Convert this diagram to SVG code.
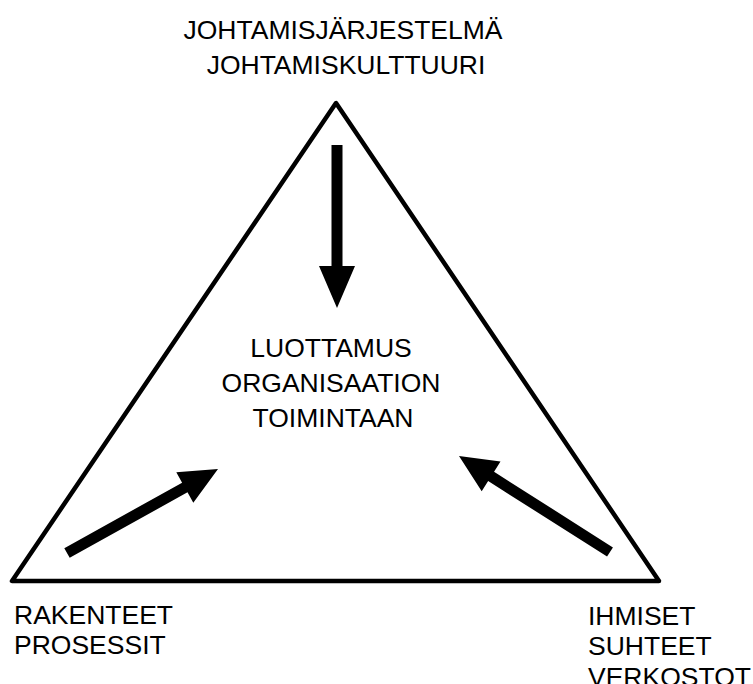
<svg xmlns="http://www.w3.org/2000/svg" width="753" height="684" viewBox="0 0 753 684">
<style>
text{font-family:"Liberation Sans",Arial,sans-serif;font-size:26.5px;fill:#000}
.arr{fill:#000;stroke:none}
</style>
<rect width="753" height="684" fill="#fff"/>
<g id="triangle">
<polygon points="336,103 12,581 659,581" fill="none" stroke="#000" stroke-width="4.5" stroke-linejoin="round"/>
</g>
<g id="connectors">
<polygon class="arr" points="331.5,145 342.5,145 342.5,266 355,266 337,308 319,266 331.5,266"/>
<polygon class="arr" points="64.3,548.2 182.1,482.7 176.3,472.2 218,469 193.3,502.8 187.5,492.3 69.7,557.8"/>
<polygon class="arr" points="612.95,547.4 494.05,471.76 500.5,461.6 459,456 481.7,491.2 488.15,481.04 607.05,556.6"/>
</g>
<g id="top">
<text x="343" y="39" text-anchor="middle">JOHTAMISJÄRJESTELMÄ</text>
<text x="346" y="74" text-anchor="middle">JOHTAMISKULTTUURI</text>
</g>
<g id="center">
<text x="331" y="357" text-anchor="middle">LUOTTAMUS</text>
<text x="331" y="392" text-anchor="middle">ORGANISAATION</text>
<text x="333" y="427" text-anchor="middle">TOIMINTAAN</text>
</g>
<g id="left">
<text x="14" y="624">RAKENTEET</text>
<text x="14" y="654">PROSESSIT</text>
</g>
<g id="right">
<text x="588" y="625">IHMISET</text>
<text x="588" y="655">SUHTEET</text>
<text x="588" y="686">VERKOSTOT</text>
</g>
</svg>
